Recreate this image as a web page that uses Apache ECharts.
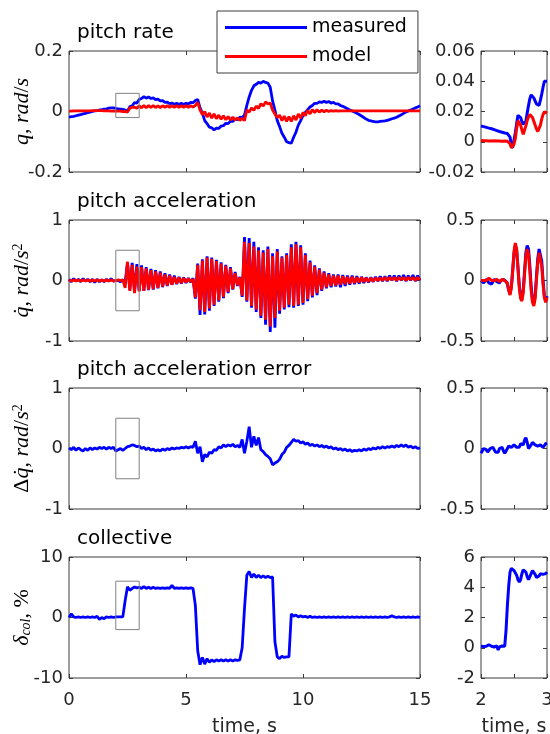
<!DOCTYPE html>
<html>
<head>
<meta charset="utf-8">
<script src="https://cdn.jsdelivr.net/npm/echarts/dist/echarts.min.js"></script>
<style>
  html, body { margin: 0; padding: 0; background: #fff; }
  #chart { width: 550px; height: 734px; }
</style>
</head>
<body>
<div id="chart"></div>
<script>
// ---- sample clocks -------------------------------------------------------
const FULL_DT = 0.1;      // s, full-run records (0..15 s)
const ZOOM_T0 = 2;        // s, start of the close-up window
const ZOOM_DT = 0.02;     // s, close-up records (2..3 s)

// ---- panel text ----------------------------------------------------------
const panelTitles = ['pitch rate', 'pitch acceleration', 'pitch acceleration error', 'collective'];
const yAxisNames = [
  '{i|q}{u|, }{i|rad}{u|/}{i|s}',
  '{i|q\u0307}{u|, }{i|rad}{u|/}{i|s}{sup|2}',
  '{u|\u0394}{i|q\u0307}{u|, }{i|rad}{u|/}{i|s}{sup|2}',
  '{i|\u03b4}{sub|col}{u|, %}'
];
const timeLabel = 'time, s';
const legendNames = ['measured', 'model'];

// ---- axis scales -----------------------------------------------------------
const timeAxis = { min: 0, max: 15, interval: 5 };
const zoomTimeAxis = { min: 2, max: 3, interval: 0.5 };
const fullRanges = [
  { min: -0.2, max: 0.2, interval: 0.2 },
  { min: -1, max: 1, interval: 1 },
  { min: -1, max: 1, interval: 1 },
  { min: -10, max: 10, interval: 10 }
];
const zoomRanges = [
  { min: -0.02, max: 0.06, interval: 0.02 },
  { min: -0.5, max: 0.5, interval: 0.5 },
  { min: -0.5, max: 0.5, interval: 0.5 },
  { min: -2, max: 6, interval: 2 }
];

// ---- full-run records, 0..15 s every 0.1 s -------------------------------
const rateMeasured = [
  -0.019,-0.017,-0.016,-0.014,-0.012,-0.010,-0.008,-0.006,-0.004,-0.002,
  0.000,0.002,0.003,0.005,0.006,0.008,0.009,0.011,0.012,0.012,
  0.010,0.009,0.008,0.007,0.005,0.001,0.016,0.019,0.029,0.028,
  0.040,0.043,0.049,0.044,0.048,0.043,0.045,0.039,0.041,0.035,
  0.036,0.030,0.031,0.026,0.028,0.024,0.027,0.023,0.027,0.023,
  0.027,0.025,0.030,0.029,0.036,0.040,0.012,-0.005,-0.030,-0.040,
  -0.052,-0.054,-0.061,-0.055,-0.056,-0.048,-0.047,-0.039,-0.040,-0.032,
  -0.033,-0.025,-0.027,-0.019,-0.020,-0.012,0.020,0.048,0.070,0.085,
  0.090,0.096,0.094,0.100,0.096,0.094,0.080,0.035,0.005,-0.030,
  -0.050,-0.072,-0.085,-0.100,-0.103,-0.105,-0.085,-0.068,-0.045,-0.030,
  -0.014,-0.003,0.006,0.015,0.020,0.027,0.027,0.032,0.030,0.034,
  0.030,0.033,0.028,0.030,0.025,0.025,0.020,0.017,0.013,0.009,
  0.005,0.002,-0.002,-0.006,-0.010,-0.015,-0.020,-0.025,-0.029,-0.031,
  -0.033,-0.034,-0.034,-0.033,-0.032,-0.031,-0.029,-0.027,-0.024,-0.022,
  -0.019,-0.015,-0.011,-0.006,-0.002,0.002,0.005,0.008,0.012,0.015,
  0.019
];
const rateModel = [
  0.001,0.001,0.002,0.002,0.002,0.002,0.002,0.002,0.002,0.002,
  0.003,0.003,0.003,0.003,0.003,0.002,0.002,0.002,0.001,0.001,
  0.001,0.001,0.001,0.000,0.000,-0.002,0.011,0.014,0.014,0.011,
  0.019,0.012,0.020,0.012,0.020,0.013,0.020,0.013,0.019,0.013,
  0.019,0.014,0.019,0.014,0.019,0.014,0.019,0.014,0.019,0.014,
  0.019,0.014,0.019,0.015,0.020,0.030,0.005,-0.010,0.000,-0.018,
  -0.005,-0.022,-0.008,-0.024,-0.012,-0.026,-0.014,-0.027,-0.017,-0.028,
  -0.019,-0.028,-0.021,-0.029,-0.023,-0.030,0.005,-0.002,0.012,0.004,
  0.018,0.010,0.026,0.018,0.032,0.025,0.028,0.005,-0.008,-0.020,
  -0.012,-0.030,-0.015,-0.033,-0.017,-0.033,-0.014,-0.028,-0.008,-0.022,
  -0.003,-0.014,0.004,-0.008,0.006,-0.004,0.006,-0.002,0.005,-0.001,
  0.004,0.000,0.003,0.001,0.003,0.001,0.002,0.002,0.002,0.002,
  0.002,0.002,0.002,0.002,0.002,0.002,0.002,0.002,0.002,0.002,
  0.002,0.002,0.002,0.002,0.002,0.002,0.002,0.002,0.002,0.002,
  0.002,0.002,0.002,0.002,0.002,0.002,0.002,0.002,0.002,0.002,
  0.002
];
const accelMeasured = [
  0.02,-0.02,0.03,-0.01,0.02,-0.02,0.03,-0.01,0.02,-0.02,
  0.02,-0.03,0.02,-0.02,0.01,-0.02,0.02,-0.01,0.03,-0.01,
  0.00,0.00,-0.02,0.01,-0.03,0.30,-0.15,0.29,-0.19,0.27,
  -0.17,0.25,-0.17,0.22,-0.16,0.19,-0.15,0.17,-0.13,0.15,
  -0.11,0.12,-0.09,0.10,-0.07,0.08,-0.06,0.06,-0.05,0.05,
  -0.04,0.04,-0.03,0.04,-0.30,0.28,-0.57,0.35,-0.56,0.40,
  -0.50,0.38,-0.42,0.34,-0.35,0.30,-0.29,0.26,-0.21,0.22,
  -0.15,0.14,-0.09,0.06,-0.27,0.72,-0.35,0.70,-0.45,0.64,
  -0.52,0.55,-0.62,0.50,-0.73,0.56,-0.85,0.45,-0.78,0.52,
  -0.55,0.40,-0.48,0.45,-0.44,0.60,-0.45,0.64,-0.42,0.58,
  -0.40,0.45,-0.34,0.33,-0.28,0.25,-0.24,0.20,-0.17,0.15,
  -0.13,0.12,-0.11,0.10,-0.10,0.10,-0.11,0.09,-0.09,0.08,
  -0.07,0.08,-0.06,0.07,-0.05,0.06,-0.04,0.05,-0.03,0.05,
  -0.02,0.06,-0.01,0.07,-0.01,0.07,-0.01,0.08,0.00,0.08,
  -0.01,0.08,0.00,0.09,-0.01,0.08,0.00,0.09,-0.01,0.08,
  0.00
];
const accelModel = [
  0.01,-0.01,0.01,-0.01,0.01,-0.01,0.01,-0.01,0.01,-0.01,
  0.01,-0.01,0.01,-0.01,0.01,-0.01,0.01,-0.01,0.01,-0.01,
  0.00,0.01,0.00,0.01,-0.12,0.31,-0.17,0.26,-0.21,0.23,
  -0.18,0.22,-0.17,0.20,-0.15,0.17,-0.14,0.15,-0.12,0.13,
  -0.10,0.10,-0.08,0.08,-0.07,0.06,-0.05,0.05,-0.04,0.04,
  -0.03,0.03,-0.02,0.02,-0.28,0.26,-0.49,0.33,-0.52,0.38,
  -0.46,0.36,-0.40,0.32,-0.33,0.28,-0.27,0.24,-0.19,0.20,
  -0.14,0.12,-0.08,0.05,-0.25,0.64,-0.33,0.62,-0.42,0.56,
  -0.48,0.50,-0.58,0.46,-0.65,0.52,-0.76,0.40,-0.62,0.48,
  -0.50,0.38,-0.45,0.42,-0.40,0.55,-0.42,0.60,-0.40,0.55,
  -0.37,0.42,-0.31,0.30,-0.25,0.23,-0.21,0.18,-0.15,0.13,
  -0.11,0.10,-0.09,0.08,-0.08,0.08,-0.07,0.07,-0.06,0.06,
  -0.05,0.06,-0.04,0.05,-0.03,0.05,-0.02,0.04,-0.02,0.04,
  -0.01,0.04,0.00,0.04,0.00,0.05,0.00,0.05,0.01,0.05,
  0.00,0.05,0.01,0.05,0.00,0.05,0.01,0.05,0.00,0.05,
  0.01
];
const accelError = [
  0.01,-0.02,0.02,-0.03,0.01,-0.02,-0.04,0.00,-0.03,0.01,
  -0.02,0.01,-0.01,0.02,0.00,0.02,-0.01,0.02,0.00,0.02,
  -0.04,-0.02,0.00,-0.03,0.00,0.03,0.04,0.06,0.05,0.03,
  0.04,0.00,0.02,-0.02,0.01,-0.03,-0.01,-0.04,-0.02,-0.04,
  -0.01,-0.03,0.00,-0.02,0.01,-0.01,0.01,0.00,0.02,0.01,
  0.03,0.01,0.03,0.02,0.12,-0.08,0.03,-0.22,-0.10,-0.14,
  -0.06,-0.08,-0.02,-0.03,0.03,0.01,0.06,0.03,0.06,0.04,
  0.07,0.03,0.05,0.02,0.15,-0.08,0.12,0.36,0.02,0.20,
  0.05,0.18,-0.02,-0.05,-0.10,-0.13,-0.17,-0.27,-0.24,-0.22,
  -0.18,-0.10,-0.06,0.02,0.05,0.10,0.15,0.12,0.13,0.09,
  0.11,0.07,0.09,0.05,0.07,0.04,0.06,0.03,0.05,0.02,
  0.04,0.01,0.03,-0.01,0.01,-0.02,0.00,-0.03,-0.01,-0.04,
  -0.02,-0.05,-0.03,-0.04,-0.02,-0.04,-0.01,-0.03,0.00,-0.02,
  0.01,-0.01,0.02,0.00,0.03,0.01,0.03,0.02,0.04,0.02,
  0.05,0.03,0.06,0.03,0.06,0.02,0.04,0.01,0.03,0.00,
  0.01
];
const collective = [
  0.0,0.6,0.1,0.0,0.1,0.0,0.1,0.0,0.1,0.0,
  0.1,0.0,0.2,-0.3,0.0,-0.2,0.1,0.0,0.1,0.0,
  0.1,0.1,0.1,0.1,2.8,5.1,4.5,4.8,5.05,4.9,
  5.0,4.8,5.1,4.8,5.0,4.8,5.0,4.8,4.9,4.8,
  4.9,4.8,4.9,4.8,5.3,4.8,4.9,4.8,4.9,4.8,
  4.9,4.8,4.9,4.8,2.0,-5.5,-7.8,-6.6,-7.7,-6.8,
  -7.4,-7.0,-7.3,-7.0,-7.2,-7.0,-7.2,-7.0,-7.2,-7.0,
  -7.2,-7.0,-7.1,-7.0,-5.0,1.5,7.0,7.6,6.6,7.2,
  6.6,7.0,6.6,6.9,6.6,6.8,6.6,6.7,-4.0,-6.5,
  -6.8,-6.4,-6.6,-6.5,-6.5,0.6,0.2,0.4,0.1,0.3,
  0.1,0.2,0.0,0.2,0.0,0.1,0.0,0.1,0.0,0.1,
  0.0,0.1,0.0,0.1,0.0,0.1,0.0,0.1,0.0,0.1,
  0.0,0.1,0.0,0.1,0.0,0.1,0.0,0.1,0.0,0.1,
  0.0,0.1,0.0,0.1,0.0,0.1,0.0,0.1,0.3,0.1,
  0.0,0.1,0.0,0.1,0.0,0.1,0.0,0.1,0.0,0.1,
  0.0
];

// ---- close-up records, 2..3 s every 0.02 s -------------------------------
const rateMeasuredZoom = [
  0.0104,0.0102,0.0100,0.0097,0.0095,0.0093,0.0090,0.0089,0.0086,0.0083,
  0.0080,0.0077,0.0074,0.0071,0.0068,0.0066,0.0063,0.0060,0.0058,0.0056,
  0.0054,0.0046,0.0030,-0.0020,-0.0040,0.0010,0.0060,0.0120,0.0175,0.0185,
  0.0160,0.0133,0.0115,0.0110,0.0135,0.0190,0.0240,0.0285,0.0310,0.0312,
  0.0290,0.0270,0.0250,0.0238,0.0240,0.0275,0.0315,0.0360,0.0400,0.0408,
  0.0400
];
const rateModelZoom = [
  0.0008,0.0008,0.0007,0.0007,0.0006,0.0006,0.0005,0.0005,0.0005,0.0006,
  0.0006,0.0005,0.0005,0.0004,0.0005,0.0005,0.0004,0.0004,0.0005,0.0004,
  0.0003,0.0000,-0.0012,-0.0040,-0.0048,-0.0015,0.0020,0.0090,0.0138,0.0140,
  0.0110,0.0078,0.0050,0.0060,0.0105,0.0140,0.0165,0.0180,0.0178,0.0160,
  0.0135,0.0110,0.0085,0.0068,0.0072,0.0110,0.0150,0.0180,0.0198,0.0200,
  0.0190
];
const accelMeasuredZoom = [
  0.00,-0.01,-0.02,-0.01,0.01,0.00,-0.02,-0.03,-0.03,-0.01,
  0.01,0.01,-0.01,-0.02,-0.02,0.00,0.01,0.01,0.00,-0.01,
  -0.03,-0.08,-0.11,-0.05,0.08,0.22,0.29,0.25,0.11,-0.04,
  -0.13,-0.15,-0.08,0.08,0.23,0.29,0.26,0.12,-0.05,-0.16,
  -0.19,-0.13,0.03,0.18,0.26,0.26,0.16,0.00,-0.13,-0.17,
  -0.13
];
const accelModelZoom = [
  0.00,0.01,0.00,-0.01,0.00,0.01,0.02,0.01,0.00,-0.01,
  0.00,0.01,0.01,0.00,-0.01,0.00,0.01,0.01,0.00,0.00,
  -0.02,-0.08,-0.12,-0.06,0.08,0.24,0.31,0.26,0.10,-0.06,
  -0.15,-0.17,-0.10,0.05,0.20,0.26,0.22,0.08,-0.08,-0.18,
  -0.21,-0.15,0.00,0.15,0.23,0.22,0.12,-0.03,-0.14,-0.18,
  -0.14
];
const accelErrorZoom = [
  -0.04,-0.03,0.00,0.01,-0.01,-0.03,-0.02,0.00,0.01,0.01,
  -0.01,-0.03,-0.04,-0.03,0.00,0.01,0.01,-0.02,-0.04,-0.03,
  0.00,0.02,0.02,0.01,0.02,0.03,0.03,0.01,0.00,0.01,
  0.04,0.05,0.03,0.07,0.09,0.05,0.00,0.00,0.03,0.05,
  0.05,0.03,0.02,0.02,0.03,0.03,0.02,0.01,0.02,0.04,
  0.045
];
const collectiveZoom = [
  0.10,0.12,0.08,0.15,0.10,0.12,0.20,0.08,0.10,0.12,
  0.05,0.10,0.12,-0.15,0.05,0.10,0.12,0.08,0.10,1.20,
  2.80,4.10,5.00,5.25,5.15,5.10,5.00,4.80,4.50,4.35,
  4.50,4.90,5.15,5.20,5.00,4.70,4.50,4.60,4.90,5.10,
  5.05,4.85,4.65,4.60,4.75,4.90,4.95,4.85,4.80,4.90,
  5.00
];

// ---- helpers ---------------------------------------------------------------
function withTime(values, t0, dt) {
  return values.map((v, i) => [+(t0 + i * dt).toFixed(3), v]);
}
const full = v => withTime(v, 0, FULL_DT);
const zoom = v => withTime(v, ZOOM_T0, ZOOM_DT);

const BLUE = '#0000ff';
const RED = '#ff0000';
const FRAME = '#3c3c3c';
const TICKTXT = '#262626';
const SANS = 'DejaVu Sans';
const SERIF = 'Liberation Serif';

// panel geometry
const LEFT_X = 69, LEFT_W = 351, RIGHT_X = 481, RIGHT_W = 66;
const ROW_TOP = [51, 220, 388, 557], ROW_H = 121;

const grid = [], xAxis = [], yAxis = [], series = [], title = [];

const rows = [
  { full: [[rateMeasured, BLUE, 'measured'], [rateModel, RED, 'model']],
    zoom: [[rateMeasuredZoom, BLUE, 'measured'], [rateModelZoom, RED, 'model']] },
  { full: [[accelMeasured, BLUE, 'measured'], [accelModel, RED, 'model']],
    zoom: [[accelMeasuredZoom, BLUE, 'measured'], [accelModelZoom, RED, 'model']] },
  { full: [[accelError, BLUE, 'measured']],
    zoom: [[accelErrorZoom, BLUE, 'measured']] },
  { full: [[collective, BLUE, 'measured']],
    zoom: [[collectiveZoom, BLUE, 'measured']] }
];

function addAxes(g, xs, ys, showX, yName) {
  const tick = { show: true, inside: true, length: 4, lineStyle: { color: FRAME, width: 1 } };
  const noLine = { show: false, onZero: false };
  xAxis.push({
    type: 'value', gridIndex: g, position: 'bottom', min: xs.min, max: xs.max, interval: xs.interval,
    axisLine: noLine, splitLine: { show: false }, axisTick: tick,
    axisLabel: {
      show: showX, margin: 13, fontSize: 18, fontFamily: SANS, color: TICKTXT,
      showMinLabel: true, showMaxLabel: true, hideOverlap: false,
      formatter: v => (Math.abs(v - Math.round(v)) < 1e-9 ? String(Math.round(v)) : '')
    },
    name: showX ? timeLabel : '', nameLocation: 'middle', nameGap: 40, nameMoveOverlap: false,
    nameTextStyle: { fontSize: 19, fontFamily: SANS, color: TICKTXT }
  });
  xAxis.push({
    type: 'value', gridIndex: g, position: 'top', min: xs.min, max: xs.max, interval: xs.interval,
    axisLine: noLine, splitLine: { show: false }, axisTick: tick, axisLabel: { show: false }
  });
  yAxis.push({
    type: 'value', gridIndex: g, position: 'left', min: ys.min, max: ys.max, interval: ys.interval,
    axisLine: noLine, splitLine: { show: false }, axisTick: tick,
    axisLabel: { margin: 6, fontSize: 18, fontFamily: SANS, color: TICKTXT, showMinLabel: true, showMaxLabel: true },
    name: yName || '', nameLocation: 'middle', nameGap: 36, nameMoveOverlap: false,
    nameTextStyle: {
      color: '#000',
      rich: {
        i: { fontFamily: SERIF, fontStyle: 'italic', fontSize: 22, color: '#000' },
        u: { fontFamily: SERIF, fontSize: 22, color: '#000' },
        sup: { fontFamily: SERIF, fontSize: 14, verticalAlign: 'top', color: '#000' },
        sub: { fontFamily: SERIF, fontStyle: 'italic', fontSize: 14, verticalAlign: 'bottom', color: '#000' }
      }
    }
  });
  yAxis.push({
    type: 'value', gridIndex: g, position: 'right', min: ys.min, max: ys.max, interval: ys.interval,
    axisLine: noLine, splitLine: { show: false }, axisTick: tick, axisLabel: { show: false }
  });
}

rows.forEach((row, r) => {
  const gL = 2 * r, gR = 2 * r + 1;
  const last = r === rows.length - 1;
  const frame = { show: true, borderColor: FRAME, borderWidth: 1, backgroundColor: '#fff',
                  containLabel: false, outerBoundsMode: 'none' };
  grid.push(Object.assign({ left: LEFT_X, top: ROW_TOP[r], width: LEFT_W, height: ROW_H }, frame));
  grid.push(Object.assign({ left: RIGHT_X, top: ROW_TOP[r], width: RIGHT_W, height: ROW_H }, frame));
  addAxes(gL, timeAxis, fullRanges[r], last, yAxisNames[r]);
  addAxes(gR, zoomTimeAxis, zoomRanges[r], last, '');

  title.push({
    text: panelTitles[r], left: LEFT_X + 8, top: ROW_TOP[r] - 28, padding: 0,
    textStyle: { fontSize: 20, fontWeight: 'normal', fontFamily: SANS, color: '#000' }
  });

  // outline of the close-up window on the full-run panel
  const zr = zoomRanges[r];
  series.push({
    type: 'line', name: 'window', xAxisIndex: 2 * gL, yAxisIndex: 2 * gL,
    data: [[zoomTimeAxis.min, zr.min], [zoomTimeAxis.max, zr.min], [zoomTimeAxis.max, zr.max],
           [zoomTimeAxis.min, zr.max], [zoomTimeAxis.min, zr.min]],
    showSymbol: false, silent: true, z: 3,
    lineStyle: { color: '#808080', width: 1 }
  });

  row.full.forEach(([vals, color, name]) => {
    series.push({
      type: 'line', name, xAxisIndex: 2 * gL, yAxisIndex: 2 * gL, data: full(vals),
      showSymbol: false, z: 2, lineStyle: { color, width: 2.8 }, itemStyle: { color }
    });
  });
  row.zoom.forEach(([vals, color, name]) => {
    series.push({
      type: 'line', name, xAxisIndex: 2 * gR, yAxisIndex: 2 * gR, data: zoom(vals),
      showSymbol: false, z: 2, lineStyle: { color, width: 3 }, itemStyle: { color }
    });
  });
});

const chart = echarts.init(document.getElementById('chart'), null, { renderer: 'canvas' });
chart.setOption({
  animation: false,
  backgroundColor: '#fff',
  title,
  legend: {
    data: legendNames, orient: 'vertical', left: 217, top: 11,
    padding: [7, 11, 7, 8], itemGap: 10, itemWidth: 82, itemHeight: 3, icon: 'rect',
    backgroundColor: '#fff', borderColor: FRAME, borderWidth: 1,
    textStyle: { fontSize: 19, fontFamily: SANS, color: '#000' },
    selectedMode: false, z: 10
  },
  grid, xAxis, yAxis, series
});
</script>
</body>
</html>
